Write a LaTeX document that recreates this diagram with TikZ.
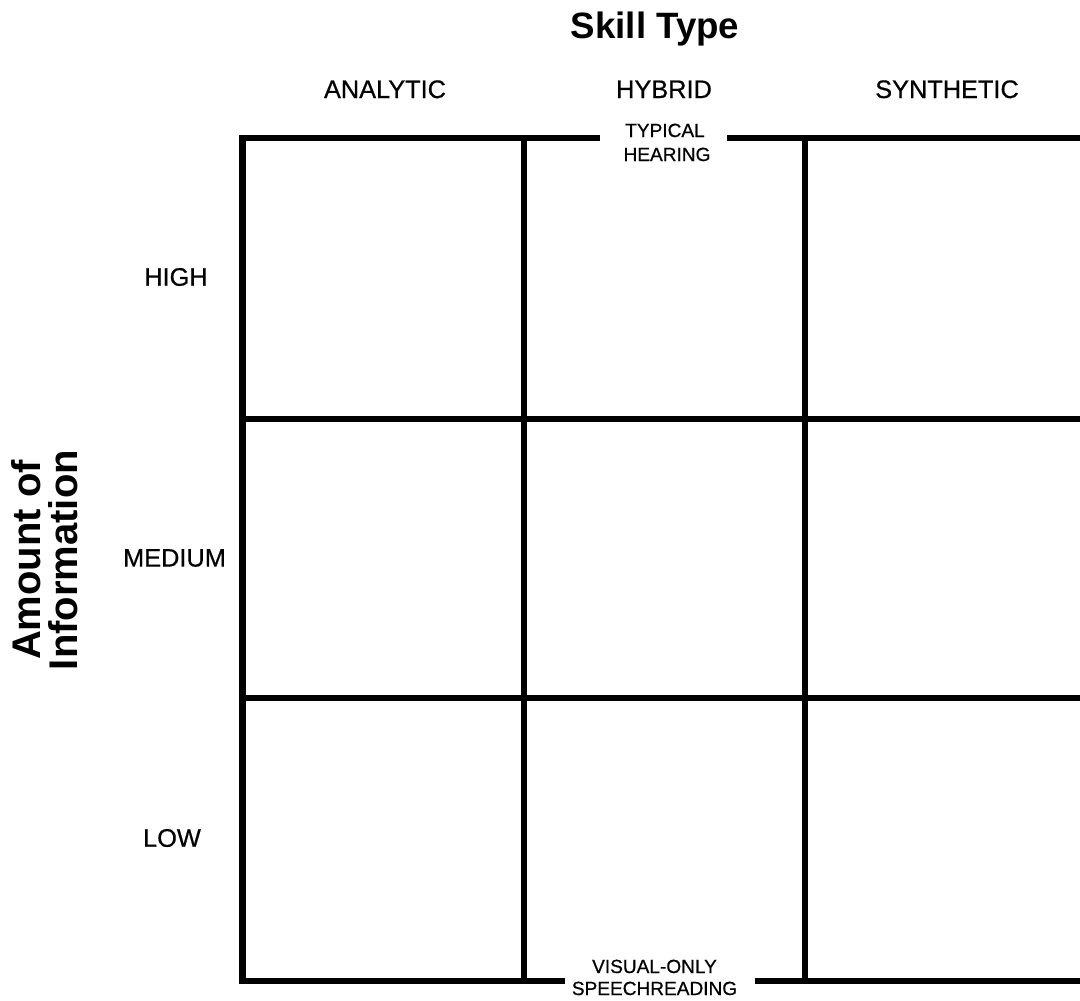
\documentclass[tikz,border=0pt]{standalone}
\usepackage{fontspec}
\setmainfont{Liberation Sans}
\newfontfamily\medfont{Liberation Sans}[BoldFont=Liberation Sans,BoldFeatures={FakeBold=0.6}]
\begin{document}
\begin{tikzpicture}[x=0.75pt,y=-0.75pt,
  gridline/.style={line width=4.9pt,line join=miter},
  title/.style={font=\bfseries\fontsize{27.5}{30}\selectfont,inner sep=0pt},
  axislabel/.style={font=\medfont\bfseries\fontsize{19}{22}\selectfont,inner sep=0pt},
  small/.style={font=\medfont\bfseries\fontsize{14.3}{17.5}\selectfont,inner sep=0pt,align=center}]
\useasboundingbox (0,0) rectangle (1080,1000);
% grid coordinates
\coordinate (tl) at (242.5,138);
\coordinate (bl) at (242.5,981);
% outer frame pieces
\draw[gridline] (600,138) -- (tl) -- (bl) -- (565,981);
\draw[gridline] (727,138) -- (1085,138);
\draw[gridline] (755,981) -- (1085,981);
% inner lines
\draw[gridline] (524,138) -- (524,981);
\draw[gridline] (805,138) -- (805,981);
\draw[gridline] (242.5,419) -- (1085,419);
\draw[gridline] (242.5,698) -- (1085,698);
% titles
\node[title,anchor=base] (skill) at (655,38) {Skill Type};
\node[font=\bfseries\fontsize{30}{27.5}\selectfont,align=center,rotate=90,inner sep=0pt] (amount) at (45,560) {Amount of\\Information};
% column labels
\node[axislabel,anchor=base] (ana) at (385,98) {ANALYTIC};
\node[axislabel,anchor=base] (hyb) at (664,98) {HYBRID};
\node[axislabel,anchor=base] (syn) at (947,98) {SYNTHETIC};
% row labels
\node[axislabel] (high) at (176,277) {HIGH};
\node[axislabel] (med) at (174.5,558) {MEDIUM};
\node[axislabel] (low) at (172,838) {LOW};
% small labels
\node[small,anchor=base] (typ) at (665,137) {TYPICAL};
\node[small,anchor=base] (hear) at (667,161) {HEARING};
\node[small,anchor=base] (vis) at (654.5,973) {VISUAL-ONLY};
\node[small,anchor=base] (spe) at (654.5,995) {SPEECHREADING};
\end{tikzpicture}
\end{document}
